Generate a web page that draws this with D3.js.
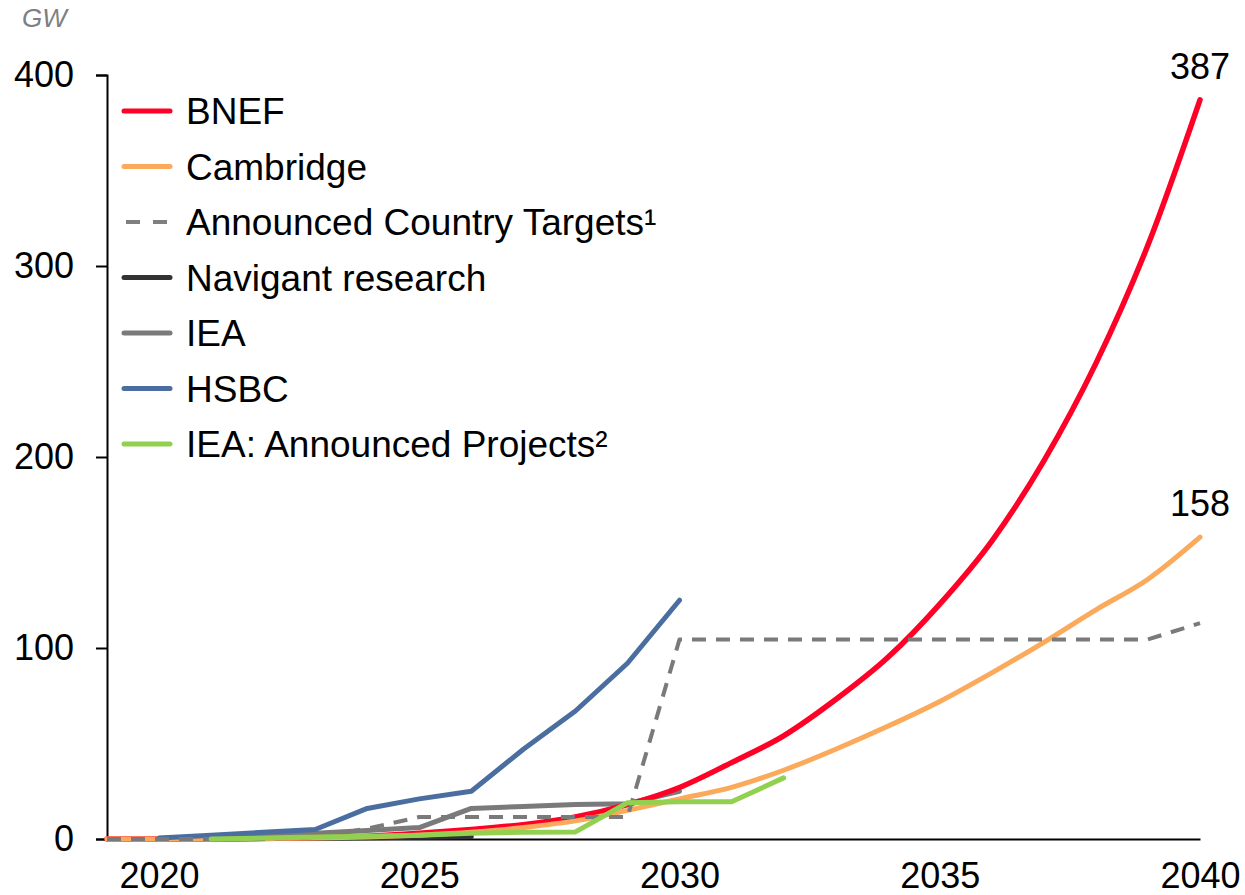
<!DOCTYPE html>
<html>
<head>
<meta charset="utf-8">
<script src="https://cdn.jsdelivr.net/npm/d3@7"></script>
<style>
  html, body { margin: 0; padding: 0; background: #fff; }
  svg { display: block; font-family: "Liberation Sans", Arial, sans-serif; }
</style>
</head>
<body>
<svg id="chart" width="1245" height="895"></svg>
<script>
// ---- data ----
const years = [2019,2020,2021,2022,2023,2024,2025,2026,2027,2028,2029,2030,2031,2032,2033,2034,2035,2036,2037,2038,2039,2040];
const bnef      = [0,0,0,0.3,0.8,1.5,3,5,7.5,11.5,18,27,40,54,73,95,123,156,198,249,311,387];
const cambridge = [0,0,0,0.2,0.5,1,2,3.5,6,9.5,15,21,27,36,47,59,72,87,103,120,136,158];
const targetsYears = [2019,2020,2021,2022,2023,2024,2025,2026,2027,2028,2029,2030,2031,2032,2033,2034,2035,2036,2037,2038,2039,2040];
const targets   = [0,0,0,0,1,5.5,11.5,11.5,11.5,11.5,11.5,104.5,104.5,104.5,104.5,104.5,104.5,104.5,104.5,104.5,104.5,113];
const navigantYears = [2021,2022,2023,2024,2025,2026];
const navigant  = [0,0.2,0.4,0.6,0.9,1.2];
const ieaYears  = [2020,2021,2022,2023,2024,2025,2026,2027,2028,2029,2030];
const iea       = [0.3,1,2,3,4.5,6,16,17,18,18.5,25];
const hsbcYears = [2020,2021,2022,2023,2024,2025,2026,2027,2028,2029,2030];
const hsbc      = [0.5,2,3.5,5,16,21,25,47,67,92,125];
const projYears = [2021,2022,2023,2024,2025,2026,2027,2028,2029,2030,2031,2032];
const projects  = [0,0.5,1,1.5,2,3,3.5,3.7,19,19.5,19.5,32];
const xTicks = [2020,2025,2030,2035,2040];
const yTicks = [0,100,200,300,400];
const legendNames = ["BNEF","Cambridge","Announced Country Targets¹","Navigant research","IEA","HSBC","IEA: Announced Projects²"];

// ---- layout ----
const svg = d3.select("#chart");
const x = d3.scaleLinear().domain([2019, 2040]).range([107, 1200]);
const y = d3.scaleLinear().domain([0, 400]).range([839, 75]);
const FONT = 36;
const LFONT = 37;

const C = {
  bnef: "#ff0026", cam: "#fbaa5c", tgt: "#7a7a7a", nav: "#333333",
  iea: "#7a7a7a", hsbc: "#4a6e9f", proj: "#92d050"
};

const series = [
  {xs: navigantYears, ys: navigant, color: C.nav, w: 5},
  {xs: ieaYears, ys: iea, color: C.iea, w: 5},
  {xs: years, ys: bnef, color: C.bnef, w: 5.5, curve: true},
  {xs: years, ys: cambridge, color: C.cam, w: 5, curve: true},
  {xs: hsbcYears, ys: hsbc, color: C.hsbc, w: 5},
  {xs: targetsYears, ys: targets, color: C.tgt, w: 4, dash: "14,10"},
  {xs: projYears, ys: projects, color: C.proj, w: 5}
];

// axes
const yAxis = d3.axisLeft(y).tickValues(yTicks).tickSize(11).tickPadding(22).tickFormat(d3.format("d"));
const gy = svg.append("g").attr("transform", "translate(107,0)").call(yAxis);
gy.selectAll("text").attr("font-size", FONT).attr("fill", "#000").attr("font-family", "Liberation Sans, Arial, sans-serif");
gy.selectAll("line").attr("stroke", "#000").attr("stroke-width", 2);
gy.select(".domain").attr("stroke", "#000").attr("stroke-width", 2);

const xAxis = d3.axisBottom(x).tickValues(xTicks).tickSize(0).tickPadding(23).tickFormat(d3.format("d"));
const gx = svg.append("g").attr("transform", "translate(0,839)").call(xAxis);
gx.selectAll("text").attr("font-size", FONT).attr("fill", "#000").attr("font-family", "Liberation Sans, Arial, sans-serif");
gx.select(".domain").attr("stroke", "#000").attr("stroke-width", 2);

// lines
series.forEach(s => {
  const pts = s.xs.map((d, i) => [d, s.ys[i]]);
  const line = d3.line().x(d => x(d[0])).y(d => y(d[1]));
  if (s.curve) line.curve(d3.curveMonotoneX);
  svg.append("path")
    .datum(pts)
    .attr("d", line)
    .attr("fill", "none")
    .attr("stroke", s.color)
    .attr("stroke-width", s.w)
    .attr("stroke-linejoin", "round")
    .attr("stroke-linecap", s.dash ? "butt" : "round")
    .attr("stroke-dasharray", s.dash || null);
});

// end labels
svg.append("text").attr("x", x(2040)).attr("y", y(bnef[bnef.length-1]) - 21)
  .attr("text-anchor", "middle").attr("font-size", FONT).text(bnef[bnef.length-1]);
svg.append("text").attr("x", x(2040)).attr("y", y(cambridge[cambridge.length-1]) - 21)
  .attr("text-anchor", "middle").attr("font-size", FONT).text(cambridge[cambridge.length-1]);

// unit
svg.append("text").attr("x", 22).attr("y", 27).attr("font-size", 26)
  .attr("font-style", "italic").attr("fill", "#7f7f7f").text("GW");

// legend
const legendStyle = [
  {color: C.bnef}, {color: C.cam}, {color: "#7f7f7f", dash: true}, {color: C.nav},
  {color: C.iea}, {color: C.hsbc}, {color: C.proj}
];
const lg = svg.append("g");
legendNames.forEach((n, i) => {
  const cy = 111 + i * 55.5;
  const st = legendStyle[i];
  lg.append("line").attr("x1", st.dash ? 126 : 124).attr("x2", st.dash ? 172 : 170).attr("y1", cy).attr("y2", cy)
    .attr("stroke", st.color).attr("stroke-width", st.dash ? 4 : 5)
    .attr("stroke-linecap", st.dash ? "butt" : "round")
    .attr("stroke-dasharray", st.dash ? "14,13" : null);
  lg.append("text").attr("x", 186).attr("y", cy + 13).attr("font-size", LFONT).attr("fill", "#000").text(n);
});
</script>
</body>
</html>
